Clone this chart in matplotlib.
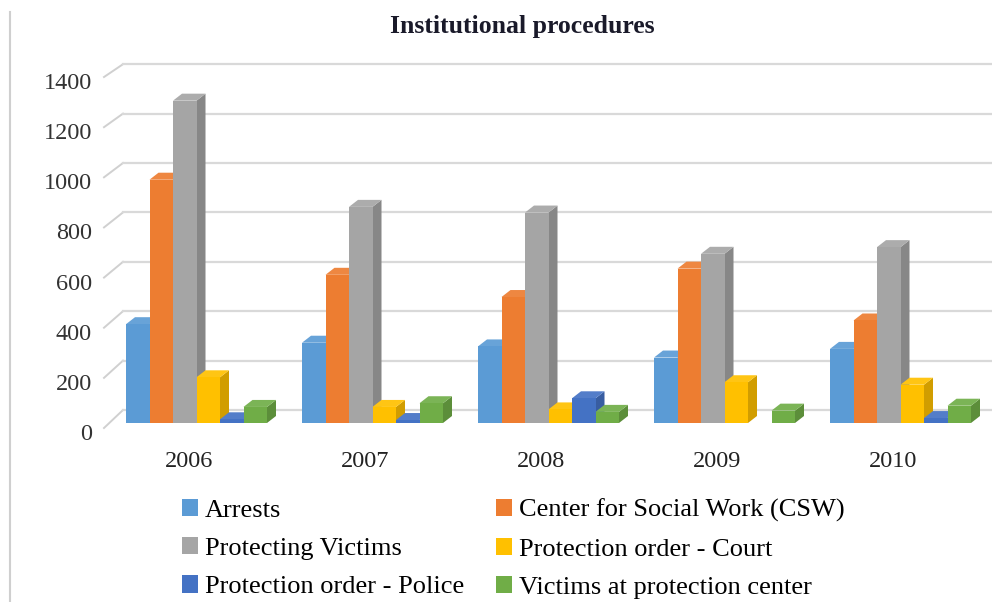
import matplotlib.pyplot as plt
from matplotlib.patches import Polygon, Rectangle, Patch
from matplotlib.lines import Line2D
import matplotlib.colors as mcolors

plt.rcParams['font.family'] = ['Liberation Serif', 'DejaVu Serif']

# Data
years = ['2006', '2007', '2008', '2009', '2010']
series = ['Arrests', 'Center for Social Work (CSW)', 'Protecting Victims',
          'Protection order - Court', 'Protection order - Police',
          'Victims at protection center']
arrests = [400, 325, 310, 265, 300]
csw = [985, 600, 510, 625, 415]
protecting_victims = [1305, 875, 852, 685, 712]
order_court = [185, 65, 55, 165, 155]
order_police = [15, 12, 100, 0, 20]
victims_center = [65, 80, 45, 50, 70]
yticks = [0, 200, 400, 600, 800, 1000, 1200, 1400]
colors = ['#5B9BD5', '#ED7D31', '#A5A5A5', '#FFC000', '#4472C4', '#70AD47']

values = [arrests, csw, protecting_victims, order_court, order_police, victims_center]

W, H = 992, 602
fig = plt.figure(figsize=(W / 100, H / 100), dpi=100)

# axes placed in pixel terms so the pseudo-3D offsets are easy to reason about
ax_l, ax_r, ax_t, ax_b = 20, 992, 40, 480
ax = fig.add_axes([ax_l / W, 1 - ax_b / H, (ax_r - ax_l) / W, (ax_b - ax_t) / H])
x0_px, x_step = 189, 176       # category spacing in pixels
y0_px, y_scale = 423, 0.247    # px of value 0 on bar fronts, px per unit
ax.set_xlim((ax_l - x0_px) / x_step, (ax_r - x0_px) / x_step)
ax.set_ylim((y0_px - ax_b) / y_scale, (y0_px - ax_t) / y_scale)
ax.axis('off')

px_x = 1 / x_step
px_y = 1 / y_scale


def data_y(py):
    return (y0_px - py) / y_scale


def data_x(px):
    return (px - x0_px) / x_step


# front labels sit on a slightly larger (nearer) scale than the bars
lab0_px, lab_scale = 432, 0.2507

# back wall gridlines with slanted ticks toward the labels
wall_dy = 13 * px_y
xmax = ax.get_xlim()[1]
for t in yticks:
    ly = data_y(lab0_px - lab_scale * t)
    ax.plot([data_x(104), data_x(123)], [ly + 4 * px_y, t + wall_dy], color='#d0d0d0', lw=1.4, zorder=1)
    ax.plot([data_x(123), xmax], [t + wall_dy, t + wall_dy], color='#d9d9d9', lw=1.6, zorder=1)
    ax.text(data_x(92), ly, str(t), ha='right', va='center_baseline', fontsize=17.5, color='#333333')

for i, yr in enumerate(years):
    ax.text(i, data_y(459), yr, ha='center', va='center_baseline', fontsize=17.5, color='#222222')

# 3D-look columns
bw = 23.5 * px_x
shift = 7.5 * px_x
ddx, ddy = 9 * px_x, 7 * px_y


def shade(c, f):
    r, g, b = mcolors.to_rgb(c)
    return (r * f, g * f, b * f)


def tint(c, f):
    r, g, b = mcolors.to_rgb(c)
    return (r + (1 - r) * f, g + (1 - g) * f, b + (1 - b) * f)


z = 2
for i in range(len(years)):
    for j, vals in enumerate(values):
        v = vals[i]
        if v <= 0:
            continue
        left = i + shift + (j - 3) * bw
        c = colors[j]
        ax.add_patch(Polygon([(left + bw, 0), (left + bw + ddx, ddy), (left + bw + ddx, v + ddy), (left + bw, v)],
                             closed=True, facecolor=shade(c, 0.82), edgecolor='none', zorder=z))
        ax.add_patch(Polygon([(left, v), (left + ddx, v + ddy), (left + bw + ddx, v + ddy), (left + bw, v)],
                             closed=True, facecolor=tint(c, 0.08), edgecolor='none', zorder=z))
        ax.add_patch(Rectangle((left, 0), bw, v, facecolor=c, edgecolor='none', zorder=z + 0.5))
        z += 1

fig.text(522 / W, 1 - 27 / H, 'Institutional procedures', ha='center', va='center',
         fontsize=18.5, fontweight='bold', color='#1a1a2a')

# left border line of the original figure
fig.add_artist(Line2D([10 / W, 10 / W], [0, 1 - 12 / H], color='#cfcfcf', lw=1.5))

handles = [Patch(facecolor=colors[k], edgecolor='none', label=series[k]) for k in range(6)]
order = [0, 2, 4, 1, 3, 5]
fig.legend([handles[k] for k in order], [series[k] for k in order], ncol=2,
           loc='upper left', bbox_to_anchor=(182 / W, 1 - 499 / H), frameon=False,
           fontsize=19, handlelength=0.62, handleheight=0.62, handletextpad=0.25,
           labelspacing=0.58, columnspacing=1.2, borderaxespad=0, borderpad=0)

fig.savefig('out.png', dpi=100)
